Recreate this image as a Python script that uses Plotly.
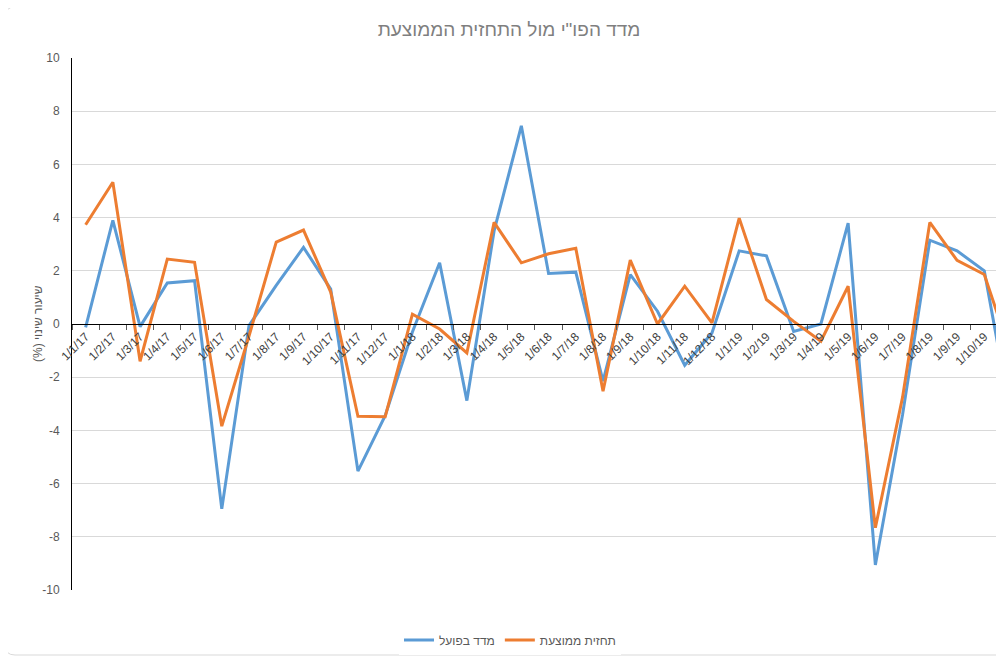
import plotly.graph_objects as go

dates = ["1/1/17", "1/2/17", "1/3/17", "1/4/17", "1/5/17", "1/6/17", "1/7/17", "1/8/17",
         "1/9/17", "1/10/17", "1/11/17", "1/12/17",
         "1/1/18", "1/2/18", "1/3/18", "1/4/18", "1/5/18", "1/6/18", "1/7/18", "1/8/18",
         "1/9/18", "1/10/18", "1/11/18", "1/12/18",
         "1/1/19", "1/2/19", "1/3/19", "1/4/19", "1/5/19", "1/6/19", "1/7/19", "1/8/19",
         "1/9/19", "1/10/19", "1/11/19"]

actual = [-0.13, 3.9, -0.1, 1.54, 1.63, -6.95, -0.06, 1.45, 2.88, 1.31, -5.53, -3.45,
          -0.3, 2.30, -2.88, 3.5, 7.45, 1.90, 1.95, -2.15, 1.86, 0.48, -1.55, -0.34,
          2.75, 2.56, -0.28, 0.0, 3.79, -9.06, -3.4, 3.15, 2.75, 2.0, -3.6]

forecast = [3.73, 5.33, -1.40, 2.44, 2.32, -3.84, -0.45, 3.08, 3.53, 1.2, -3.47, -3.49,
            0.37, -0.19, -1.09, 3.82, 2.30, 2.64, 2.85, -2.53, 2.40, 0.0, 1.42, 0.04,
            3.98, 0.92, 0.1, -0.65, 1.42, -7.66, -2.75, 3.82, 2.39, 1.86, -1.2]

yticks = [-10, -8, -6, -4, -2, 0, 2, 4, 6, 8, 10]
ytick_labels = ["-10", "-8", "-6", "-4", "-2", "0", "2", "4", "6", "8", "10"]

OFF = 8  # page body margin
W, H = 1004 - OFF, 659 - OFF
L, R, T, B = 64, 0, 50, 69
pw, ph = W - L - R, H - T - B


def px(x):  # window pixel -> paper x
    return (x - OFF - L) / pw


def py(y):  # window pixel -> paper y
    return (H - B - (y - OFF)) / ph


FONT = "Liberation Sans, DejaVu Sans, Arial, sans-serif"

fig = go.Figure()
fig.add_trace(go.Scatter(x=dates, y=actual, mode="lines", name="מדד בפועל",
                         line=dict(color="#5B9BD5", width=3)))
fig.add_trace(go.Scatter(x=dates, y=forecast, mode="lines", name="תחזית ממוצעת",
                         line=dict(color="#ED7D31", width=3)))

# rounded chart border
x0, x1, y0, y1 = px(5), px(1012), py(655), py(7)
rx, ry = 10 / pw, 10 / ph
path = (f"M {x0+rx},{y1} L {x1-rx},{y1} Q {x1},{y1} {x1},{y1-ry} L {x1},{y0+ry} "
        f"Q {x1},{y0} {x1-rx},{y0} L {x0+rx},{y0} Q {x0},{y0} {x0},{y0+ry} "
        f"L {x0},{y1-ry} Q {x0},{y1} {x0+rx},{y1} Z")

x_range_end = (W - (85.7 - OFF)) / 27.23

fig.update_layout(
    width=W, height=H,
    margin=dict(l=L, r=R, t=T, b=B, autoexpand=False),
    paper_bgcolor="white", plot_bgcolor="white",
    font=dict(family=FONT, color="#595959"),
    title=dict(text="מדד הפו\"י מול התחזית הממוצעת", x=px(509), xref="paper",
               xanchor="center", y=1 - (29 - OFF) / H, yanchor="middle",
               font=dict(size=19, color="#7f7f7f", family=FONT)),
    showlegend=True,
    legend=dict(orientation="h", x=px(510), xanchor="center", y=py(640), yanchor="middle",
                font=dict(size=12, color="#595959"), itemwidth=30, traceorder="normal"),
    xaxis=dict(type="category", range=[-0.5, x_range_end], anchor="free", position=0.5,
               showline=True, linecolor="black", linewidth=1, showgrid=False,
               ticks="outside", ticklen=5, tickcolor="#595959", tickson="boundaries",
               tickangle=-45, tickfont=dict(size=12, color="#404040"), zeroline=False),
    yaxis=dict(range=[-10, 10], tickvals=yticks, ticktext=ytick_labels,
               showgrid=True, gridcolor="#d9d9d9",
               gridwidth=1, zeroline=True, zerolinecolor="black", zerolinewidth=1,
               showline=True, linecolor="black", linewidth=1, ticks="",
               ticklabelstandoff=9, tickfont=dict(size=12, color="#595959")),
    annotations=[dict(text="שיעור שינוי (%)\u200F", xref="paper", yref="paper",
                      x=px(38), y=py(324), xanchor="center", yanchor="middle",
                      textangle=-90, showarrow=False,
                      font=dict(size=12, color="#595959", family=FONT))],
    shapes=[dict(type="path", xref="paper", yref="paper", path=path,
                 line=dict(color="#d9d9d9", width=1), layer="below")],
)

fig.write_html("out.html")
